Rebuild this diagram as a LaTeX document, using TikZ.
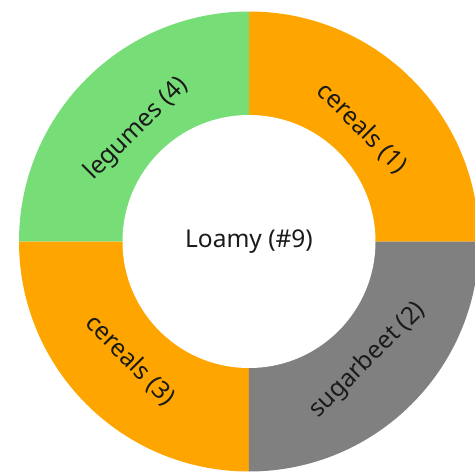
\documentclass[tikz,border=0pt]{standalone}
\usepackage{fontspec}
\setmainfont{Noto Sans}
\definecolor{cereal}{HTML}{FFA500}
\definecolor{legume}{HTML}{77DD77}
\definecolor{beet}{HTML}{808080}
\definecolor{txt}{HTML}{1A1A1A}
\begin{document}
\begin{tikzpicture}[x=1pt,y=1pt,
  lbl/.style={text=txt,font=\fontsize{24.5}{29}\selectfont,inner sep=0pt}]
\useasboundingbox (-249,-230.5) rectangle (226,241.5);
\clip (-249,-230.5) rectangle (226,241.5);
\def\Ro{230pt}
\def\Ri{126.5pt}
\fill[cereal] (0,0) -- (0:\Ro) arc[start angle=0,end angle=90,radius=\Ro] -- cycle;
\fill[legume] (0,0) -- (90:\Ro) arc[start angle=90,end angle=180,radius=\Ro] -- cycle;
\fill[cereal] (0,0) -- (180:\Ro) arc[start angle=180,end angle=270,radius=\Ro] -- cycle;
\fill[beet] (0,0) -- (270:\Ro) arc[start angle=270,end angle=360,radius=\Ro] -- cycle;
\fill[white] (0,0) circle[radius=\Ri];
\node[lbl] (center) at (0,0) {Loamy (\#9)};
\node[lbl,rotate=-45] (c1) at (45:160pt) {cereals (1)};
\node[lbl,rotate=45] (s2) at (-45:168pt) {sugarbeet (2)};
\node[lbl,rotate=-45] (c3) at (225:168pt) {cereals (3)};
\node[lbl,rotate=45] (l4) at (135:159pt) {legumes (4)};
\end{tikzpicture}
\end{document}
